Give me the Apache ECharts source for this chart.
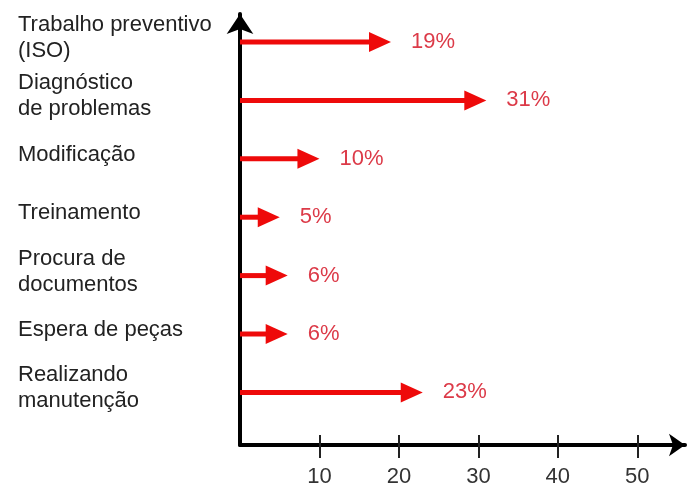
<!DOCTYPE html>
<html>
<head>
<meta charset="utf-8">
<script src="https://cdn.jsdelivr.net/npm/echarts@6/dist/echarts.min.js"></script>
<style>
html,body{margin:0;padding:0;background:#fff;}
#chart{width:694px;height:488px;}
</style>
</head>
<body>
<div id="chart"></div>
<script>
// ---- data ----
const categories = [
  'Trabalho preventivo\n(ISO)',
  'Diagnóstico\nde problemas',
  'Modificação',
  'Treinamento',
  'Procura de\ndocumentos',
  'Espera de peças',
  'Realizando\nmanutenção'
];
const values = [19, 31, 10, 5, 6, 6, 23];
const tickValues = [10, 20, 30, 40, 50];
const axisMax = 56;

// ---- styles ----
const FONT = '"Liberation Sans", Arial, sans-serif';
const arrowColor = '#ee0a0a';
const pctColor = '#dc3a48';

const chart = echarts.init(document.getElementById('chart'), null, {renderer: 'canvas'});

const plotRect = {left: 240, right: 9, top: 14, bottom: 42};

const option = {
  animation: false,
  backgroundColor: '#ffffff',
  grid: [
    Object.assign({}, plotRect),
    Object.assign({}, plotRect),
    {left: 240, right: 9, top: 12.8, bottom: 66.4},
    {left: 240, right: 9, top: 8.8, bottom: 70.4}
  ],
  xAxis: [
    {
      gridIndex: 0, type: 'value', min: 0, max: axisMax, interval: 10,
      splitLine: {show: false},
      axisLine: {show: true, symbol: ['none', 'arrow'], symbolSize: [17, 16],
        lineStyle: {color: '#000', width: 4}},
      axisTick: {show: false},
      axisLabel: {show: true, customValues: tickValues, margin: 21,
        fontFamily: FONT, fontSize: 22, color: '#333'}
    },
    {
      gridIndex: 1, type: 'value', min: 0, max: axisMax, interval: 10,
      offset: -11,
      splitLine: {show: false},
      axisLine: {show: false},
      axisTick: {show: true, length: 23, customValues: tickValues,
        lineStyle: {color: '#222', width: 2}},
      axisLabel: {show: false}
    },
    {
      gridIndex: 2, type: 'value', min: 0, max: axisMax, show: false
    },
    {
      gridIndex: 3, type: 'value', min: 0, max: axisMax, show: false
    }
  ],
  yAxis: [
    {
      gridIndex: 0, type: 'value', min: 0, max: 1,
      splitLine: {show: false},
      axisLine: {show: true, symbol: ['none', 'arrow'], symbolSize: [20, 20],
        lineStyle: {color: '#000', width: 4}},
      axisTick: {show: false},
      axisLabel: {show: false}
    },
    {
      gridIndex: 1, type: 'value', min: 0, max: 1, show: false
    },
    {
      gridIndex: 2, type: 'category', inverse: true, data: categories,
      show: false
    },
    {
      gridIndex: 3, type: 'category', inverse: true, data: categories,
      axisLine: {show: false},
      axisTick: {show: false},
      splitLine: {show: false},
      axisLabel: {
        show: true, interval: 0, align: 'left', margin: 222,
        fontFamily: FONT, fontSize: 22, lineHeight: 26, color: '#222'
      }
    }
  ],
  series: [
    {
      type: 'custom',
      xAxisIndex: 2,
      yAxisIndex: 2,
      data: values.map((v, i) => [v, i]),
      encode: {x: 0, y: 1},
      renderItem: function (params, api) {
        const v = api.value(0);
        const c = api.value(1);
        const start = api.coord([0, c]);
        const end = api.coord([v, c]);
        const headLen = 22, headHalf = 10;
        return {
          type: 'group',
          children: [
            {
              type: 'line',
              shape: {x1: start[0], y1: start[1], x2: end[0] - headLen + 2, y2: end[1]},
              style: {stroke: arrowColor, lineWidth: 5}
            },
            {
              type: 'polygon',
              shape: {points: [[end[0] - headLen, end[1] - headHalf], [end[0], end[1]], [end[0] - headLen, end[1] + headHalf]]},
              style: {fill: arrowColor}
            },
            {
              type: 'text',
              x: end[0] + 20, y: end[1],
              style: {
                text: v + '%', fill: pctColor,
                font: '22px ' + FONT,
                align: 'left', verticalAlign: 'middle'
              }
            }
          ]
        };
      }
    }
  ]
};
chart.setOption(option);
</script>
</body>
</html>
